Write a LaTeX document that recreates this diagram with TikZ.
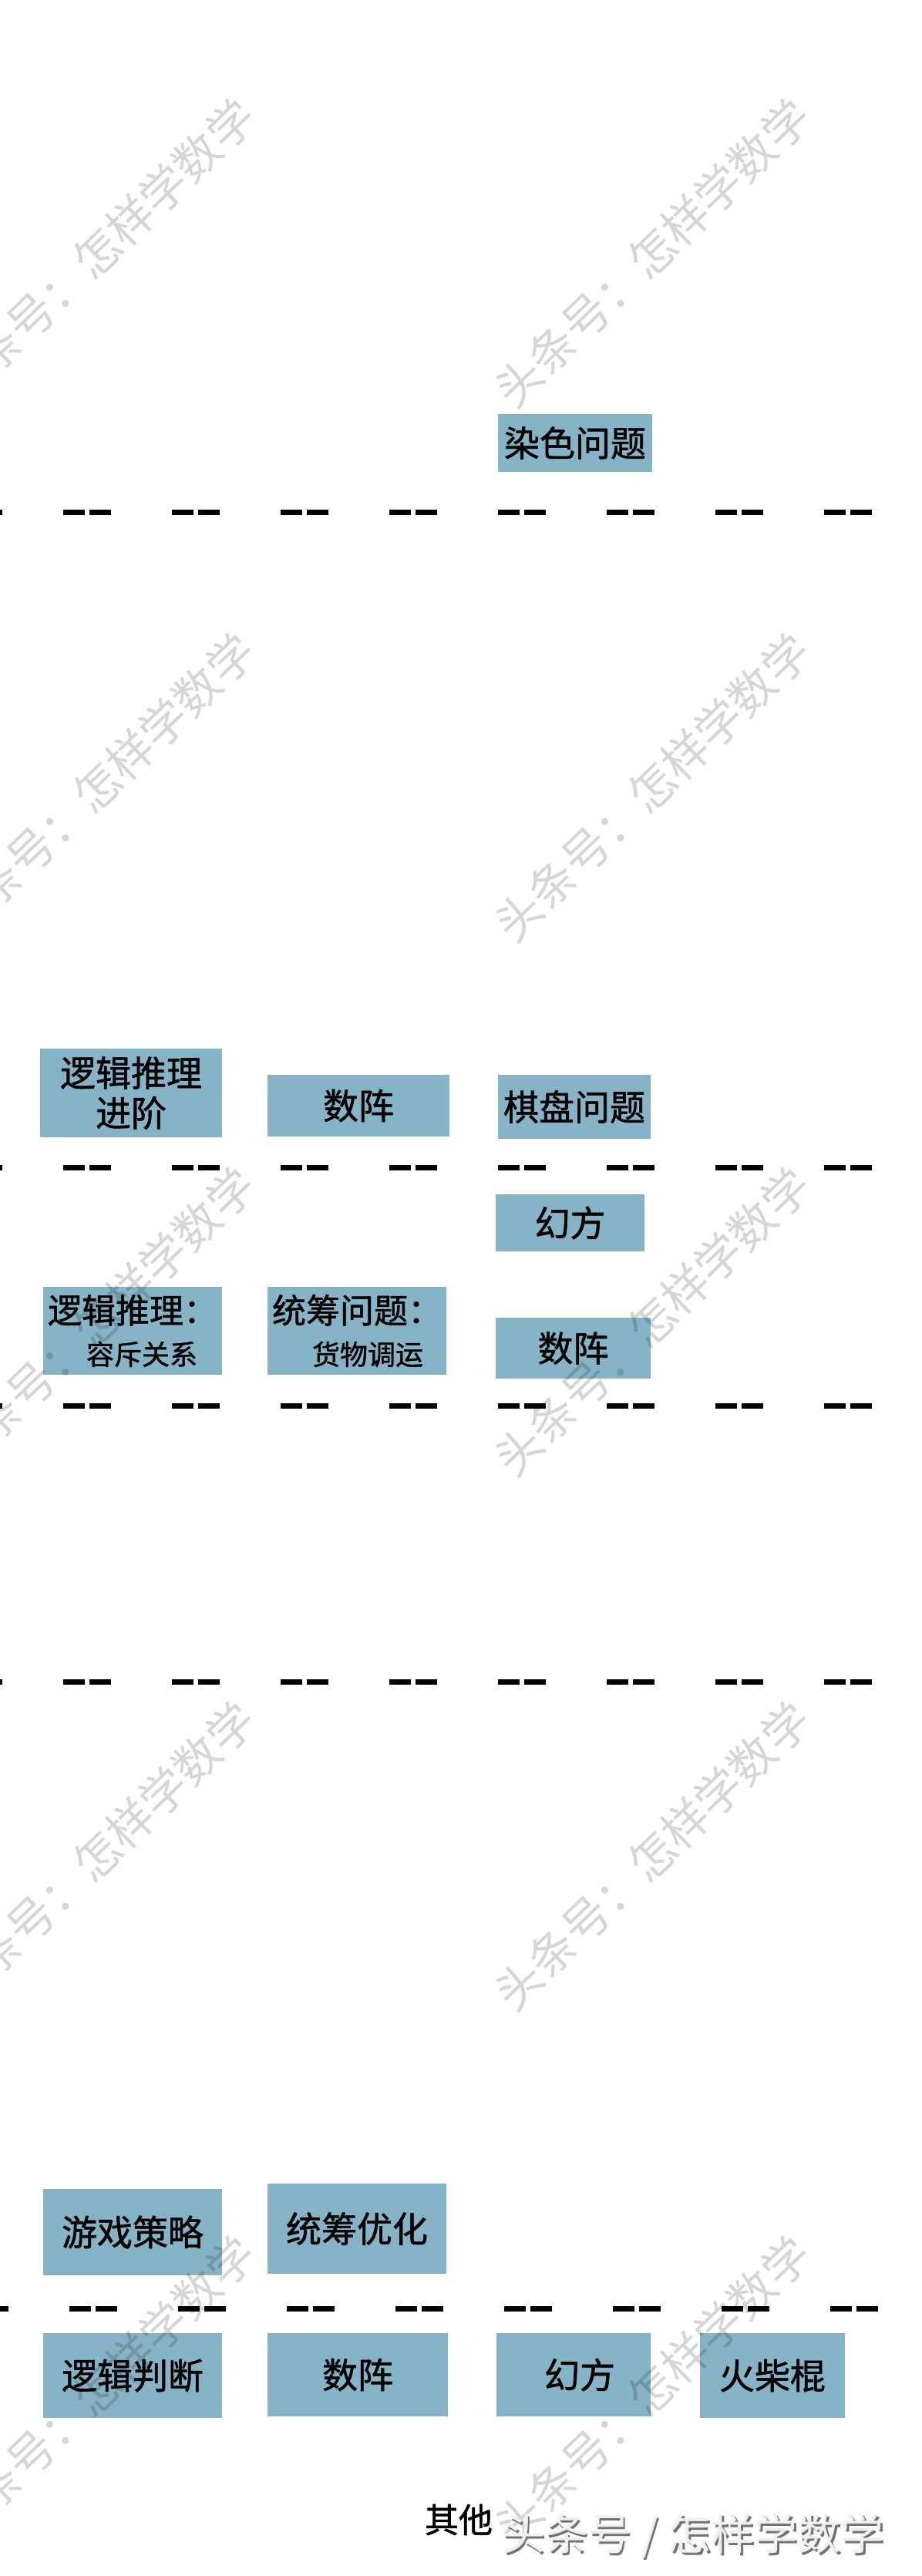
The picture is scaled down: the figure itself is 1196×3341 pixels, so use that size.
\documentclass[tikz,border=0pt]{standalone}
\usepackage{fontspec}
\newfontfamily\cjk{Noto Sans CJK SC}[FakeBold=1.2]
\newfontfamily\cjklight{Noto Sans CJK SC}
\usetikzlibrary{positioning}
\definecolor{boxblue}{RGB}{134,179,198}

\begin{document}
\begin{tikzpicture}[x=1pt, y=-1pt]

    \tikzstyle{topic} = [rectangle, fill=boxblue, inner sep=0pt, align=center, font=\cjk\fontsize{46}{52}\selectfont]
    \tikzstyle{rowline} = [line width=7pt, dash pattern=on 28pt off 6pt on 28pt off 79pt]
    \tikzstyle{wmark} = [rotate=44, text=black, text opacity=0.16, font=\cjklight\fontsize{60}{60}\selectfont]

    \useasboundingbox (0,0) rectangle (1196,3341);

    % dashed rows
    \coordinate (r1w) at (0,664);  \coordinate (r1e) at (1196,664);
    \coordinate (r2w) at (0,1514); \coordinate (r2e) at (1196,1514);
    \coordinate (r3w) at (0,1823); \coordinate (r3e) at (1196,1823);
    \coordinate (r4w) at (0,2181); \coordinate (r4e) at (1196,2181);
    \coordinate (r5w) at (0,2994); \coordinate (r5e) at (1196,2994);

    \draw [rowline, dash phase=59pt] (r1w) -- (r1e);
    \draw [rowline, dash phase=59pt] (r2w) -- (r2e);
    \draw [rowline, dash phase=59pt] (r3w) -- (r3e);
    \draw [rowline, dash phase=59pt] (r4w) -- (r4e);
    \draw [rowline, dash phase=51pt] (r5w) -- (r5e);

    % topics
    \node (ranse) [topic, minimum width=200pt, minimum height=75pt] at (746,574.5) {染色问题};

    \node (tuili) [topic, minimum width=236pt, minimum height=115pt] at (170,1417.5) {逻辑推理\\进阶};
    \node (shuzhenA) [topic, minimum width=236pt, minimum height=80pt] at (465,1434) {数阵};
    \node (qipan) [topic, minimum width=198pt, minimum height=83pt] at (745,1435.5) {棋盘问题};
    \node (huanfangA) [topic, minimum width=193pt, minimum height=74pt] at (739.5,1586) {幻方};

    \node (rongchi) [topic, minimum width=232pt, minimum height=114pt, font=\cjk\fontsize{44}{50}\selectfont] at (172,1726) {逻辑推理：\\[4pt]{\fontsize{36}{40}\selectfont\hspace*{24pt}容斥关系}};
    \node (diaoyun) [topic, minimum width=232pt, minimum height=114pt, font=\cjk\fontsize{44}{50}\selectfont] at (463,1726) {统筹问题：\\[4pt]{\fontsize{36}{40}\selectfont\hspace*{28pt}货物调运}};
    \node (shuzhenB) [topic, minimum width=201pt, minimum height=79pt] at (743.5,1748.5) {数阵};

    \node (youxi) [topic, minimum width=232pt, minimum height=112pt] at (172,2895) {游戏策略};
    \node (youhua) [topic, minimum width=232pt, minimum height=117pt] at (463,2890.5) {统筹优化};
    \node (panduan) [topic, minimum width=232pt, minimum height=110pt] at (172,3081) {逻辑判断};
    \node (shuzhenC) [topic, minimum width=234pt, minimum height=108pt] at (464,3080) {数阵};
    \node (huanfangB) [topic, minimum width=200pt, minimum height=108pt] at (744,3080) {\hspace*{16pt}幻方};
    \node (huochai) [topic, minimum width=188pt, minimum height=110pt] at (1002,3081) {火柴棍};

    \node (qita) [font=\cjk\fontsize{44}{44}\selectfont, inner sep=0pt] at (595,3268) {其他};

    % watermarks
    \node (wmAl) [wmark] at (126,328) {头条号：怎样学数学};
    \node (wmAr) [wmark] at (846,328) {头条号：怎样学数学};
    \node (wmBl) [wmark] at (126,1021) {头条号：怎样学数学};
    \node (wmBr) [wmark] at (846,1021) {头条号：怎样学数学};
    \node (wmCl) [wmark] at (126,1714) {头条号：怎样学数学};
    \node (wmCr) [wmark] at (846,1714) {头条号：怎样学数学};
    \node (wmDl) [wmark] at (126,2407) {头条号：怎样学数学};
    \node (wmDr) [wmark] at (846,2407) {头条号：怎样学数学};
    \node (wmEl) [wmark] at (126,3100) {头条号：怎样学数学};
    \node (wmEr) [wmark] at (846,3100) {头条号：怎样学数学};

    \node (signshadow) [font=\cjklight\fontsize{56}{56}\selectfont, text=black!55] at (901.5,3291.5) {头条号 / 怎样学数学};
    \node (sign) [font=\cjklight\fontsize{56}{56}\selectfont, text=black!6] at (899,3289) {头条号 / 怎样学数学};
\end{tikzpicture}
\end{document}
